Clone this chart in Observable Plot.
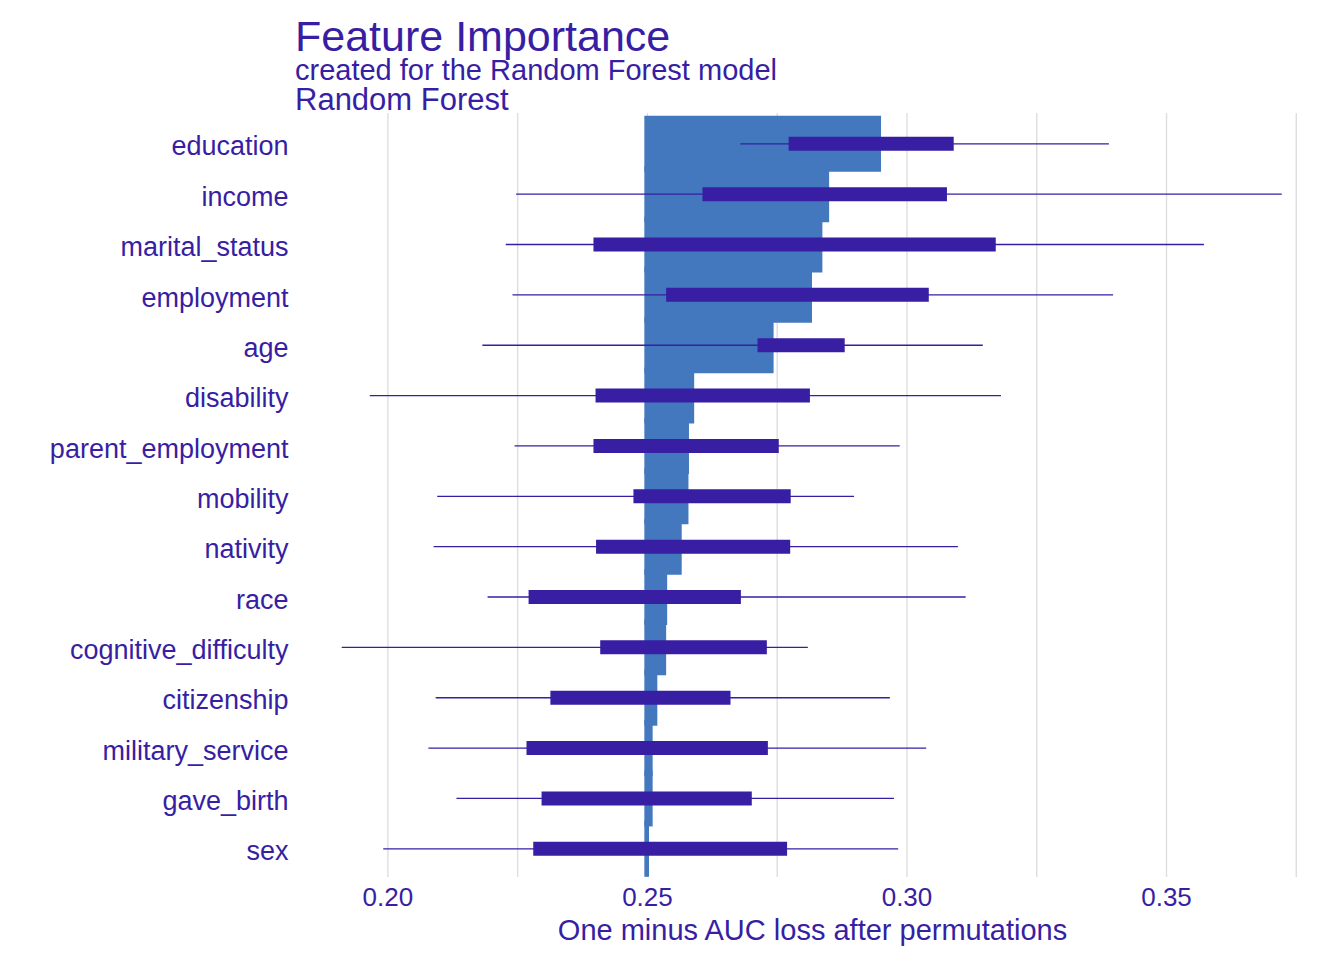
<!DOCTYPE html>
<html><head><meta charset="utf-8">
<script src="https://cdn.jsdelivr.net/npm/d3@7"></script>
<script src="https://cdn.jsdelivr.net/npm/@observablehq/plot@0.6"></script>
<style>
body{margin:0;background:#fff;font-family:"Liberation Sans",Arial,sans-serif;color:#371ea3}
#wrap{position:relative;width:1344px;height:960px;overflow:hidden;background:#fff}
.t{position:absolute;left:295px;line-height:0.75;white-space:nowrap;z-index:2}
#chart{position:absolute;left:0;top:100px;line-height:0;z-index:1}
</style></head><body>
<div id="wrap">
<div id="chart"></div>
<div class="t" style="top:20px;font-size:43px">Feature Importance</div>
<div class="t" style="top:60px;font-size:29px">created for the Random Forest model</div>
<div class="t" style="top:87.6px;font-size:31px">Random Forest</div>
</div>
<script>
const features = ["education","income","marital_status","employment","age","disability","parent_employment","mobility","nativity","race","cognitive_difficulty","citizenship","military_service","gave_birth","sex"];
const meanLoss = [0.2951,0.2851,0.2838,0.2818,0.2744,0.2591,0.2581,0.2580,0.2567,0.2539,0.2537,0.2520,0.2511,0.2511,0.2504];
const lossMin  = [0.2680,0.2248,0.2228,0.2241,0.2183,0.1966,0.2245,0.2096,0.2089,0.2193,0.1912,0.2093,0.2079,0.2133,0.1992];
const lossQ1   = [0.2773,0.2607,0.2397,0.2537,0.2713,0.2401,0.2397,0.2474,0.2402,0.2272,0.2410,0.2314,0.2268,0.2297,0.2281];
const lossQ3   = [0.3091,0.3078,0.3172,0.3043,0.2881,0.2814,0.2754,0.2777,0.2776,0.2681,0.2731,0.2661,0.2733,0.2702,0.2770];
const lossMax  = [0.3390,0.3723,0.3573,0.3398,0.3147,0.3182,0.2987,0.2899,0.3099,0.3114,0.2810,0.2968,0.3038,0.2976,0.2984];
const baselineLoss = 0.2495;
const xTicks = [0.20,0.25,0.30,0.35];
const gridTicks = [0.200,0.225,0.250,0.275,0.300,0.325,0.350,0.375];
const xLabel = "One minus AUC loss after permutations";

const rows = features.map((f,i)=>({feature:f, base:baselineLoss, mean:meanLoss[i], min:lossMin[i], q1:lossQ1[i], q3:lossQ3[i], max:lossMax[i]}));

const plot = Plot.plot({
  width:1344, height:860, marginTop:13, marginBottom:83, marginLeft:295, marginRight:15,
  style:{fontFamily:'"Liberation Sans",Arial,sans-serif', fontSize:"26px", color:"#371ea3", background:"transparent", overflow:"visible"},
  x:{domain:[0.1822,0.3814], nice:false},
  y:{type:"point", domain:features, range:[43.3,748.3], padding:0, round:false},
  marks:[
    Plot.ruleX(gridTicks, {stroke:"#dedede", strokeWidth:1.4}),
    Plot.ruleY(rows, {y:"feature", x1:"base", x2:"mean", stroke:"#4378bf", strokeWidth:56}),
    Plot.ruleY(rows, {y:"feature", x1:"min", x2:"max", stroke:"#371ea3", strokeWidth:1.3}),
    Plot.ruleY(rows, {y:"feature", x1:"q1", x2:"q3", stroke:"#371ea3", strokeWidth:14}),
    Plot.axisX(xTicks, {tickSize:0, tickPadding:10, tickFormat:d=>d.toFixed(2), label:null}),
    Plot.axisY({tickSize:0, tickPadding:7, fontSize:27, label:null, dy:3}),
    Plot.text([xLabel], {text:d=>d, frameAnchor:"bottom", dy:53, fontSize:29, fill:"#371ea3", lineAnchor:"middle"})
  ]
});
document.getElementById("chart").appendChild(plot);
</script>
</body></html>
